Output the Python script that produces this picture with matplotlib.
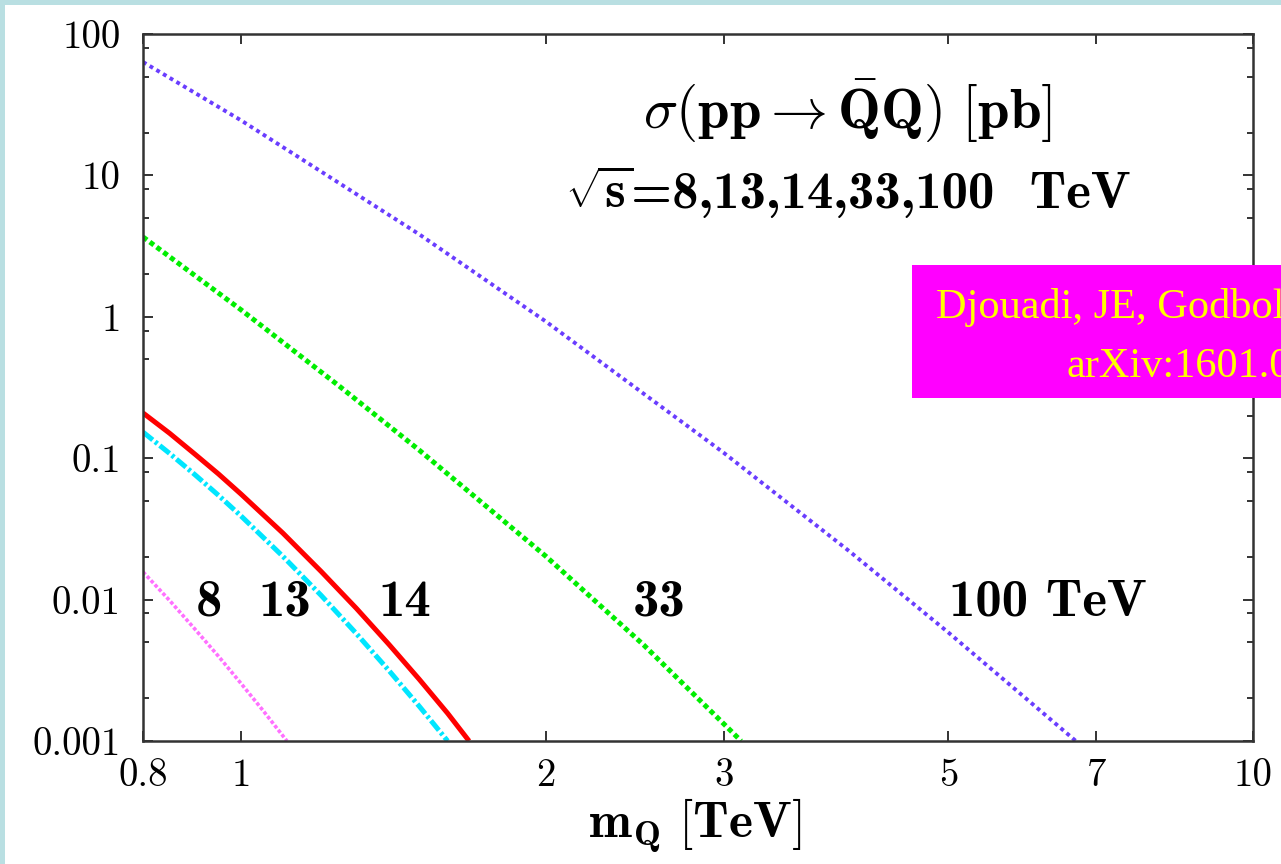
import matplotlib
matplotlib.use("Agg")
import matplotlib.pyplot as plt
from matplotlib.patches import Rectangle

plt.rcParams["mathtext.fontset"] = "cm"
plt.rcParams["axes.unicode_minus"] = False

# heavy quark pair production cross sections (pb) vs mass (TeV)
mass_8 = [0.8, 0.85, 0.9, 0.95, 1.0, 1.05, 1.11]
xsec_8 = [0.0157, 0.00985, 0.0062, 0.00397, 0.00255, 0.00166, 0.001]
mass_13 = [0.8, 0.85, 0.9, 0.95, 1.0, 1.1, 1.2, 1.3, 1.4, 1.5, 1.6]
xsec_13 = [0.153, 0.108, 0.0766, 0.0546, 0.039, 0.0202, 0.0107, 0.00575, 0.00315, 0.00176, 0.001]
mass_14 = [0.8, 0.85, 0.9, 0.95, 1.0, 1.1, 1.2, 1.3, 1.4, 1.5, 1.6, 1.68]
xsec_14 = [0.209, 0.150, 0.107, 0.0773, 0.0557, 0.0295, 0.0158, 0.00867, 0.00482, 0.00273,
           0.00157, 0.001]
mass_33 = [0.8, 1.0, 1.25, 1.5, 2.0, 2.5, 3.0, 3.12]
xsec_33 = [3.67, 1.12, 0.324, 0.114, 0.0203, 0.00477, 0.00132, 0.001]
mass_100 = [0.8, 1.0, 1.5, 2.0, 3.0, 4.0, 5.0, 6.0, 6.7]
xsec_100 = [63.4, 24.5, 3.83, 0.928, 0.109, 0.0217, 0.00585, 0.00193, 0.000984]

energy_labels = ["8", "13", "14", "33", "100 TeV"]
label_mass = [0.93, 1.105, 1.45, 2.59, 6.27]

x_ticks = [0.8, 1, 2, 3, 5, 7, 10]
x_ticklabels = ["0.8", "1", "2", "3", "5", "7", "10"]
y_ticks = [0.001, 0.01, 0.1, 1, 10, 100]
y_ticklabels = ["0.001", "0.01", "0.1", "1", "10", "100"]
y_minor = [m * 10.0 ** e for e in range(-3, 2) for m in (2, 5, 8)]

fig = plt.figure(figsize=(12.81, 8.64), dpi=100, facecolor="white")
# light blue slide edge on the top and left
fig.patches.append(Rectangle((0, 0), 5 / 1281, 1, transform=fig.transFigure,
                             facecolor="#b9dfe2", edgecolor="none", zorder=-10))
fig.patches.append(Rectangle((0, 1 - 5 / 864), 1, 5 / 864, transform=fig.transFigure,
                             facecolor="#b9dfe2", edgecolor="none", zorder=-10))

ax = fig.add_axes([143 / 1281, 123 / 864, 1110 / 1281, 707 / 864])
ax.set_xscale("log")
ax.set_yscale("log")

ax.plot(mass_8, xsec_8, color="#ff70ff", lw=2.6, ls=(0, (1, 0.6)))
ax.plot(mass_13, xsec_13, color="#00e6ff", lw=3.6, ls=(0, (2.5, 0.6, 0.6, 0.6)))
ax.plot(mass_14, xsec_14, color="#ff0000", lw=3.6, solid_capstyle="butt")
ax.plot(mass_33, xsec_33, color="#00ee00", lw=3.6, ls=(0, (1, 0.7)))
ax.plot(mass_100, xsec_100, color="#6a3dff", lw=2.8, ls=(0, (1, 1.0)))

ax.set_xlim(0.8, 10)
ax.set_ylim(0.001, 100)

ax.set_xticks(x_ticks)
ax.set_xticklabels(x_ticklabels, fontfamily="cmr10", fontsize=28)
ax.xaxis.set_minor_locator(matplotlib.ticker.NullLocator())
ax.set_yticks(y_ticks)
ax.set_yticklabels(y_ticklabels, fontfamily="cmr10", fontsize=28)
ax.set_yticks(y_minor, minor=True)
ax.yaxis.set_minor_formatter(matplotlib.ticker.NullFormatter())

ax.tick_params(which="both", direction="in", top=True, right=True, color="#333333", width=1.4)
ax.tick_params(which="major", length=7.5)
ax.tick_params(which="minor", length=4)
ax.tick_params(axis="x", which="major", pad=12)
ax.tick_params(axis="y", which="major", pad=16)
for sp in ax.spines.values():
    sp.set_linewidth(1.8)
    sp.set_color("#333333")

for txt, m in zip(energy_labels, label_mass):
    ax.text(m, 0.0077, txt, fontfamily="cmb10", fontsize=38, ha="center", va="baseline")

ax.text(0.635, 0.867, r"$\sigma(\mathbf{pp}\rightarrow\bar{\mathbf{Q}}\mathbf{Q})\ [\mathbf{pb}]$",
        transform=ax.transAxes, fontsize=41, ha="center", va="baseline")
ax.text(0.4425, 0.754, r"$\sqrt{\mathbf{s}}$", transform=ax.transAxes, fontsize=38,
        ha="right", va="baseline")
ax.text(0.4395, 0.754, "=8,13,14,33,100  TeV", transform=ax.transAxes, fontfamily="cmb10",
        fontsize=38, ha="left", va="baseline")

ax.text(0.497, -0.136, r"$\mathbf{m}_{\mathbf{Q}}\ [\mathbf{TeV}]$", transform=ax.transAxes,
        fontsize=37, ha="center", va="baseline")

# reference box on the right
ax.add_patch(Rectangle((912 / 1281, 466 / 864), 0.4, 133 / 864, transform=fig.transFigure,
                       facecolor="#ff00ff", edgecolor="none", clip_on=False, zorder=5))
ax.text(936 / 1281, 546 / 864, "Djouadi, JE, Godbole, Quevillon", transform=fig.transFigure,
        fontfamily=["Liberation Serif", "DejaVu Serif"], fontsize=30.5, color="#ffff00",
        ha="left", va="baseline", clip_on=False, zorder=6)
ax.text(1067 / 1281, 487 / 864, "arXiv:1601.03696", transform=fig.transFigure,
        fontfamily=["Liberation Serif", "DejaVu Serif"], fontsize=30.5, color="#ffff00",
        ha="left", va="baseline", clip_on=False, zorder=6)

fig.savefig("out.png", dpi=100, facecolor=fig.get_facecolor())
